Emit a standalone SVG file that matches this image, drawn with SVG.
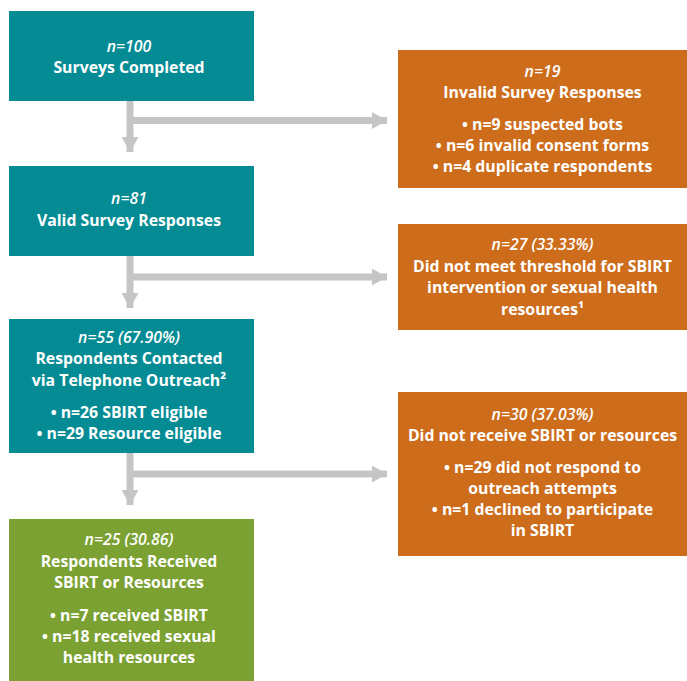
<svg xmlns="http://www.w3.org/2000/svg" width="687" height="681" viewBox="0 0 687 681">
  <defs>
    <style>
      .teal { fill: #058b94; }
      .orange { fill: #cd6d1c; }
      .green { fill: #7aa131; }
      text { font-family: "Open Sans", "Liberation Sans", sans-serif; font-size: 15.8px; font-weight: bold; fill: #ffffff; text-anchor: middle; }
      .n { font-style: italic; font-weight: 600; }
      .link { stroke: #c5c5c5; stroke-width: 7; fill: none; marker-end: url(#head); }
    </style>
    <marker id="head" markerUnits="userSpaceOnUse" markerWidth="16" markerHeight="18" refX="15" refY="8.5" orient="auto">
      <path d="M0,0 L15,8.5 L0,17 Z" fill="#c5c5c5"/>
    </marker>
  </defs>

  <!-- connectors -->
  <g id="connectors">
    <line class="link" x1="130" y1="101" x2="130" y2="152"/>
    <line class="link" x1="130" y1="120.5" x2="387" y2="120.5"/>
    <line class="link" x1="130" y1="256" x2="130" y2="308"/>
    <line class="link" x1="130" y1="277" x2="387" y2="277"/>
    <line class="link" x1="130" y1="453" x2="130" y2="505"/>
    <line class="link" x1="130" y1="474" x2="387" y2="474"/>
  </g>

  <g id="surveys-completed">
    <rect class="teal" x="9" y="11" width="245" height="90"/>
    <text class="n" x="129" y="52">n=100</text>
    <text x="129" y="73">Surveys Completed</text>
  </g>

  <g id="invalid-responses">
    <rect class="orange" x="398" y="50" width="289" height="138"/>
    <text class="n" x="542.5" y="77">n=19</text>
    <text x="542.5" y="98">Invalid Survey Responses</text>
    <text x="542.5" y="130">• n=9 suspected bots</text>
    <text x="542.5" y="151">• n=6 invalid consent forms</text>
    <text x="542.5" y="172">• n=4 duplicate respondents</text>
  </g>

  <g id="valid-responses">
    <rect class="teal" x="9" y="166" width="245" height="90"/>
    <text class="n" x="129" y="204">n=81</text>
    <text x="129" y="225.5">Valid Survey Responses</text>
  </g>

  <g id="below-threshold">
    <rect class="orange" x="398" y="224" width="289" height="106"/>
    <text class="n" x="542.5" y="250">n=27 (33.33%)</text>
    <text x="542.5" y="271.5">Did not meet threshold for SBIRT</text>
    <text x="542.5" y="293">intervention or sexual health</text>
    <text x="542.5" y="314.5">resources¹</text>
  </g>

  <g id="contacted">
    <rect class="teal" x="9" y="319" width="245" height="134"/>
    <text class="n" x="129" y="343">n=55 (67.90%)</text>
    <text x="129" y="364">Respondents Contacted</text>
    <text x="129" y="385.5">via Telephone Outreach²</text>
    <text x="129" y="417.5">• n=26 SBIRT eligible</text>
    <text x="129" y="438.5">• n=29 Resource eligible</text>
  </g>

  <g id="not-received">
    <rect class="orange" x="398" y="392" width="289" height="164"/>
    <text class="n" x="542.5" y="420">n=30 (37.03%)</text>
    <text x="542.5" y="440.5">Did not receive SBIRT or resources</text>
    <text x="542.5" y="472.5">• n=29 did not respond to</text>
    <text x="542.5" y="494">outreach attempts</text>
    <text x="542.5" y="515">• n=1 declined to participate</text>
    <text x="542.5" y="536">in SBIRT</text>
  </g>

  <g id="received">
    <rect class="green" x="9" y="519" width="245" height="162"/>
    <text class="n" x="129" y="545">n=25 (30.86)</text>
    <text x="129" y="566.5">Respondents Received</text>
    <text x="129" y="588">SBIRT or Resources</text>
    <text x="129" y="620.5">• n=7 received SBIRT</text>
    <text x="129" y="641.5">• n=18 received sexual</text>
    <text x="129" y="662.5">health resources</text>
  </g>
</svg>
